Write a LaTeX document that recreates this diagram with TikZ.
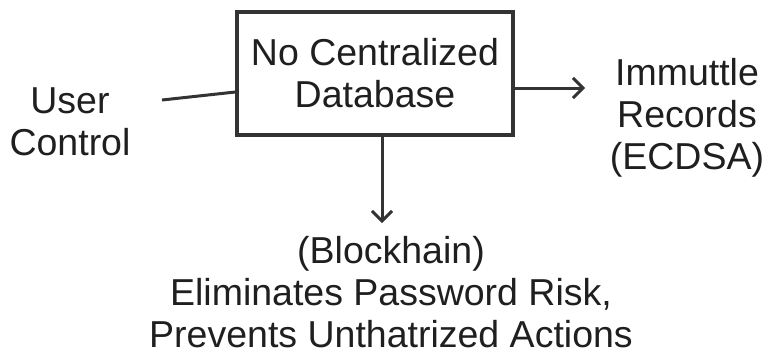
\documentclass[tikz,border=0pt]{standalone}
\usepackage{fontspec}
\setmainfont{Liberation Sans}
\usetikzlibrary{arrows.meta}
\begin{document}
\begin{tikzpicture}[x=1pt, y=-1pt,
    lbl/.style={align=center, font=\fontsize{37.5}{42}\selectfont, text=black!88, inner sep=0pt},
    link/.style={line width=3pt, draw=black!80},
    tip/.style={-{Straight Barb[length=10pt, width=20pt, line width=3pt]}}]
    \useasboundingbox (0,0) rectangle (766,354);

    % --- Center: the database box ---
    \node[lbl, draw=black!80, line width=3.2pt, minimum width=276pt, minimum height=123pt] (db) at (375,73.5) {No Centralized\\Database};

    % --- Left: user side ---
    \node[lbl] (user) at (70,122) {User\\Control};
    \coordinate (ustart) at (162,100);
    \draw[link] (ustart) -- (db.west |- 0,92);

    % --- Right: records ---
    \node[lbl] (rec) at (687,118) {Immuttle\\Records\\(ECDSA)};
    \coordinate (rtip) at (585,88);
    \draw[link, tip] (db.east |- rtip) -- (rtip);

    % --- Bottom: outcome ---
    \node[lbl] (out) at (391,292) {(Blockhain)\\Eliminates Password Risk,\\Prevents Unthatrized Actions};
    \coordinate (dtip) at (382,223);
    \draw[link, tip] (db.south -| dtip) -- (dtip);

\end{tikzpicture}
\end{document}
